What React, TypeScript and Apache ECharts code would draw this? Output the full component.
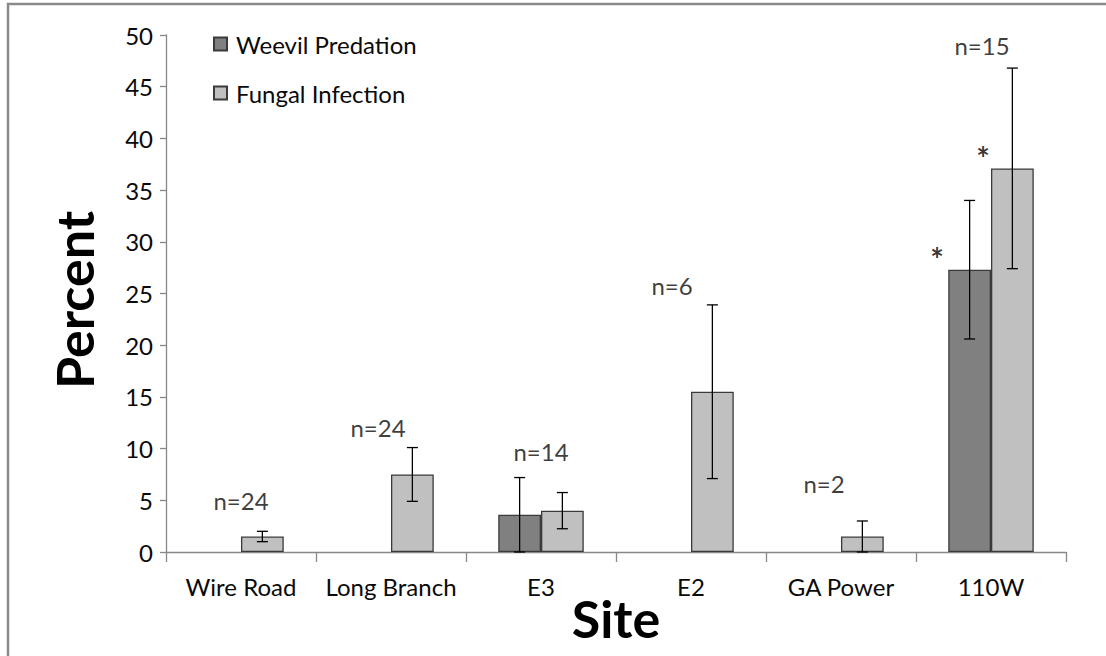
import React, { useEffect, useRef } from "react";
import * as echarts from "echarts";

// Sites along the x axis
const categories = ["Wire Road", "Long Branch", "E3", "E2", "GA Power", "110W"];

// Mean percent per site and its error (±)
const weevilPredation = [null, null, 3.6, null, null, 27.3];
const weevilError = [null, null, 3.6, null, null, 6.7];
const fungalInfection = [1.5, 7.5, 4.0, 15.5, 1.5, 37.1];
const fungalError = [0.5, 2.6, 1.75, 8.4, 1.5, 9.7];

// Sample size notes and the value level each sits at
const sampleSizes = ["n=24", "n=24", "n=14", "n=6", "n=2", "n=15"];
const sampleLabelLevel = [5.0, 12.0, 9.7, 25.8, 6.6, 49.0];

// Significance markers (asterisks) per site
const weevilSignificant = [false, false, false, false, false, true];
const fungalSignificant = [false, false, false, false, false, true];

const yTicks = { min: 0, max: 50, interval: 5 };

const FONT = "Lato";
const TEXT = "#0a0a0a";
const CATEGORY_GAP = 0.43;
const sampleLabelShift = [0, -13, 0, -19, -17, -9];

export default function App() {
  const ref = useRef<HTMLDivElement>(null);

  useEffect(() => {
    if (!ref.current) return;
    const chart = echarts.init(ref.current, null, { renderer: "svg" });

    const errorData = (vals: (number | null)[], errs: (number | null)[]) =>
      vals
        .map((v, i) => (v == null || errs[i] == null ? null : [i, v - (errs[i] as number), v + (errs[i] as number)]))
        .filter((d) => d !== null);

    const errorRenderer = (side: number) => (params: any, api: any) => {
      const ci = api.value(0);
      const lo = api.value(1);
      const hi = api.value(2);
      const band = api.size([1, 0])[0];
      const barW = (band * (1 - CATEGORY_GAP)) / 2;
      const dx = (side * barW) / 2;
      const top = api.coord([ci, hi]);
      const bot = api.coord([ci, lo]);
      const x = top[0] + dx;
      const cap = 5.5;
      const style = { stroke: "#000", lineWidth: 1.3 };
      return {
        type: "group",
        children: [
          { type: "line", shape: { x1: x, y1: top[1], x2: x, y2: bot[1] }, style },
          { type: "line", shape: { x1: x - cap, y1: top[1], x2: x + cap, y2: top[1] }, style },
          { type: "line", shape: { x1: x - cap, y1: bot[1], x2: x + cap, y2: bot[1] }, style },
        ],
      };
    };

    const starLabel = { fontSize: 32, fontWeight: "bold", color: "#000" };
    const noteData: any[] = [];
    sampleSizes.forEach((t, i) => {
      noteData.push({
        value: [i, sampleLabelLevel[i]],
        label: { formatter: t, offset: [sampleLabelShift[i], 0] },
      });
    });
    weevilSignificant.forEach((s, i) => {
      if (s && weevilPredation[i] != null) {
        noteData.push({
          value: [i, (weevilPredation[i] as number) + 1.5],
          label: { formatter: "*", offset: [-54, 5], ...starLabel },
        });
      }
    });
    fungalSignificant.forEach((s, i) => {
      if (s && fungalInfection[i] != null) {
        noteData.push({
          value: [i, fungalInfection[i] + 1.4],
          label: { formatter: "*", offset: [-8, 5], ...starLabel },
        });
      }
    });

    chart.setOption({
      animation: false,
      backgroundColor: "#fff",
      grid: { left: 166, right: 40, top: 35, bottom: 104 },
      legend: {
        data: ["Weevil Predation", "Fungal Infection"],
        orient: "vertical",
        left: 213,
        top: 32,
        padding: 0,
        icon: "rect",
        itemWidth: 13,
        itemHeight: 13,
        itemGap: 25,
        textStyle: { fontFamily: FONT, fontSize: 24, color: TEXT, padding: [0, 0, 0, 4] },
      },
      xAxis: {
        type: "category",
        data: categories,
        axisLine: { show: true, lineStyle: { color: "#888", width: 1.3 } },
        axisTick: { show: true, length: 10, lineStyle: { color: "#888", width: 1.3 } },
        axisLabel: { fontFamily: FONT, fontSize: 24, color: TEXT, margin: 22, interval: 0 },
        splitLine: { show: false },
      },
      yAxis: {
        type: "value",
        min: yTicks.min,
        max: yTicks.max,
        interval: yTicks.interval,
        axisLine: { show: true, lineStyle: { color: "#888", width: 1.3 } },
        axisTick: { show: true, length: 6, lineStyle: { color: "#888", width: 1.3 } },
        axisLabel: { fontFamily: FONT, fontSize: 24, color: TEXT, margin: 13 },
        splitLine: { show: false },
      },
      series: [
        {
          name: "Weevil Predation",
          type: "bar",
          data: weevilPredation,
          barGap: "0%",
          barCategoryGap: CATEGORY_GAP * 100 + "%",
          itemStyle: { color: "#808080", borderColor: "#3a3a3a", borderWidth: 1.3 },
        },
        {
          name: "Fungal Infection",
          type: "bar",
          data: fungalInfection,
          barGap: "0%",
          barCategoryGap: CATEGORY_GAP * 100 + "%",
          itemStyle: { color: "#c0c0c0", borderColor: "#3a3a3a", borderWidth: 1.3 },
        },
        {
          type: "custom",
          renderItem: errorRenderer(-1),
          data: errorData(weevilPredation, weevilError),
          encode: { x: 0, y: [1, 2] },
          z: 5,
          silent: true,
        },
        {
          type: "custom",
          renderItem: errorRenderer(1),
          data: errorData(fungalInfection, fungalError),
          encode: { x: 0, y: [1, 2] },
          z: 5,
          silent: true,
        },
        {
          type: "scatter",
          symbolSize: 0,
          data: noteData,
          z: 6,
          silent: true,
          label: {
            show: true,
            position: "inside",
            align: "center",
            verticalAlign: "middle",
            fontFamily: FONT,
            fontSize: 24,
            color: TEXT,
          },
        },
      ],
      graphic: [
        {
          type: "rect",
          shape: { x: 8, y: 4, width: 1300, height: 900 },
          style: { fill: "none", stroke: "#8a8a8a", lineWidth: 2.5 },
          silent: true,
        },
        {
          type: "text",
          x: 74,
          y: 300,
          rotation: Math.PI / 2,
          style: {
            text: "Percent",
            font: `bold 52px ${FONT}`,
            fill: "#000",
            textAlign: "center",
            textVerticalAlign: "middle",
          },
        },
        {
          type: "text",
          x: 616,
          y: 618,
          style: {
            text: "Site",
            font: `bold 52px ${FONT}`,
            fill: "#000",
            textAlign: "center",
            textVerticalAlign: "middle",
          },
        },
      ],
    });

    return () => chart.dispose();
  }, []);

  return (
    <div
      ref={ref}
      style={{ position: "fixed", left: 0, top: 0, width: 1106, height: 656 }}
    />
  );
}
